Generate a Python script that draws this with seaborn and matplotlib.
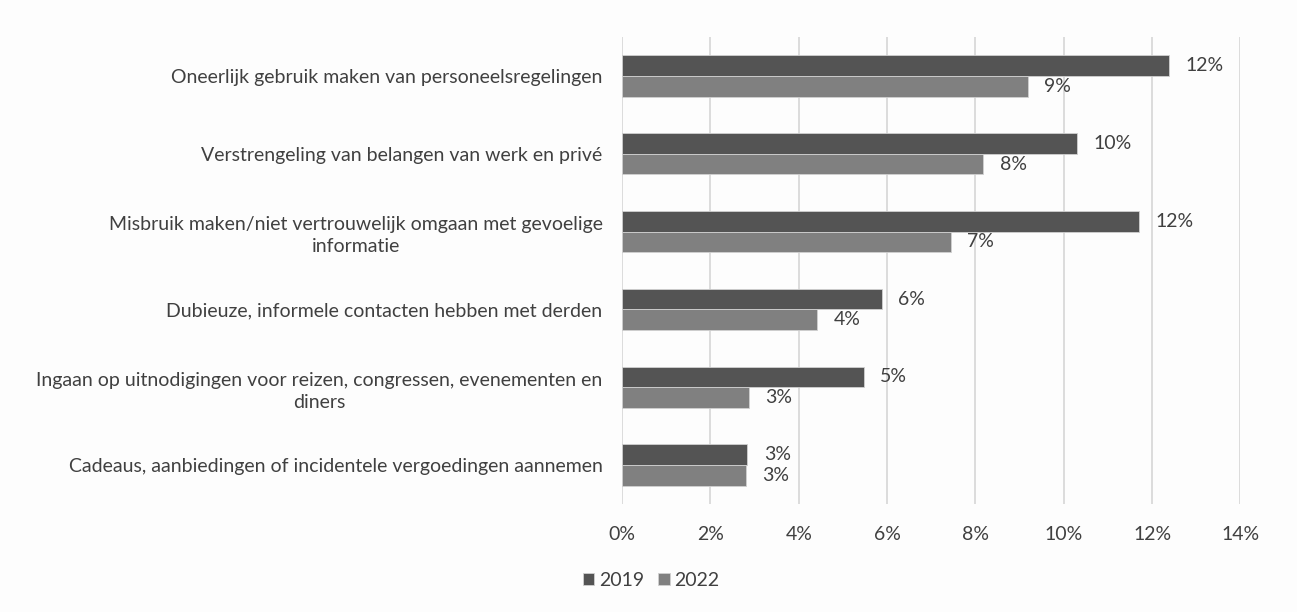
import pandas as pd
import seaborn as sns
import matplotlib.pyplot as plt
from matplotlib.ticker import FuncFormatter

categories = [
    "Oneerlijk gebruik maken van personeelsregelingen",
    "Verstrengeling van belangen van werk en privé",
    "Misbruik maken/niet vertrouwelijk omgaan met gevoelige\ninformatie",
    "Dubieuze, informele contacten hebben met derden",
    "Ingaan op uitnodigingen voor reizen, congressen, evenementen en\ndiners",
    "Cadeaus, aanbiedingen of incidentele vergoedingen aannemen",
]
years = ["2019", "2022"]
values_2019 = [12.38, 10.29, 11.70, 5.88, 5.47, 2.83]
values_2022 = [9.18, 8.17, 7.44, 4.41, 2.87, 2.80]
x_ticks = [0, 2, 4, 6, 8, 10, 12, 14]

df = pd.DataFrame({
    "categorie": categories * 2,
    "jaar": [years[0]] * len(categories) + [years[1]] * len(categories),
    "waarde": values_2019 + values_2022,
})

sns.set_theme(style="white")
plt.rcParams["font.family"] = ["Lato", "DejaVu Sans"]
fs = 14

fig = plt.figure(figsize=(12.97, 6.12), dpi=100, facecolor="#fdfdfd")
ax = fig.add_axes([0.4796, 0.1765, 0.4768, 0.763])
ax.set_facecolor("#fdfdfd")

sns.barplot(data=df, y="categorie", x="waarde", hue="jaar", orient="h",
            palette=["#545454", "#808080"], width=0.53, ax=ax,
            edgecolor="#d0d0d0", linewidth=0.6, legend=True)

# data labels
for cont in ax.containers:
    ax.bar_label(cont, labels=[f"{round(v)}%" for v in cont.datavalues],
                 padding=12, fontsize=fs, color="#404040")

ax.set_xlim(0, 14)
ax.set_xticks(x_ticks)
ax.xaxis.set_major_formatter(FuncFormatter(lambda v, p: f"{v:.0f}%"))
ax.grid(axis="x", color="#d9d9d9", linewidth=1.3)
ax.set_axisbelow(True)
for s in ax.spines.values():
    s.set_visible(False)
ax.set_xlabel("")
ax.set_ylabel("")
ax.tick_params(axis="x", labelsize=fs, colors="#404040", pad=16, length=0)
ax.tick_params(axis="y", labelsize=fs, colors="#404040", pad=14, length=0)
for lbl in ax.get_yticklabels():
    lbl.set_multialignment("center")
    lbl.set_linespacing(1.35)

handles, labels = ax.get_legend_handles_labels()
ax.legend_.remove()
fig.legend(handles, labels, loc="center", bbox_to_anchor=(0.502, 0.052),
           ncol=2, frameon=False, fontsize=fs, handlelength=0.6,
           handleheight=0.6, handletextpad=0.25, columnspacing=0.7,
           labelcolor="#404040")

fig.savefig("out.png", dpi=100, facecolor=fig.get_facecolor())
